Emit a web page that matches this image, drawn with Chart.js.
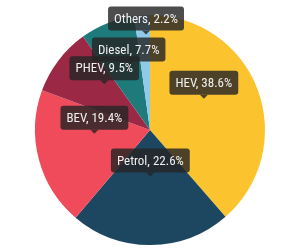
<!DOCTYPE html>
<html>
<head>
<meta charset="utf-8">
<script src="https://cdn.jsdelivr.net/npm/chart.js@4.4.1/dist/chart.umd.min.js"></script>
<style>
  html, body { margin: 0; padding: 0; background: #fff; }
  #wrap { width: 300px; height: 250px; }
</style>
</head>
<body>
<div id="wrap"><canvas id="pieChart"></canvas></div>
<script>
  // data
  const categories = ['HEV', 'Petrol', 'BEV', 'PHEV', 'Diesel', 'Others'];
  const shares = [38.6, 22.6, 19.4, 9.5, 7.7, 2.2];
  const sliceColors = ['#fbc42f', '#1d4661', '#ef4b5b', '#9b2945', '#1f7a7b', '#8fcbe8'];

  const labelFont = "13px 'Roboto Condensed', 'Liberation Sans Narrow', 'DejaVu Sans Condensed', sans-serif";

  // callout box over every slice; pushed up only when it badly hits one already placed
  const calloutPlugin = {
    id: 'callouts',
    afterDatasetsDraw(chart) {
      const ctx = chart.ctx;
      const arcs = chart.getDatasetMeta(0).data;
      ctx.save();
      ctx.font = labelFont;
      const placed = [];
      arcs.forEach((arc, i) => {
        const pos = arc.tooltipPosition();
        const text = categories[i] + ', ' + shares[i] + '%';
        const w = ctx.measureText(text).width + 12;
        const h = 24;
        const box = { x: pos.x - w / 2, y: pos.y - 15 - h, w: w, h: h, px: pos.x, text: text };
        placed.forEach(p => {
          const overlapY = Math.min(box.y + h, p.y + p.h) - Math.max(box.y, p.y);
          if (box.x < p.x + p.w && box.x + box.w > p.x && overlapY > 8) {
            box.y = p.y - 7 - h;
          }
        });
        placed.push(box);
      });
      placed.slice().reverse().forEach(b => {
        const bottom = b.y + b.h;
        ctx.fillStyle = 'rgba(38, 38, 38, 0.82)';
        ctx.beginPath();
        ctx.roundRect(b.x, b.y, b.w, b.h, 3);
        ctx.fill();
        ctx.beginPath();
        ctx.moveTo(b.px - 4, bottom);
        ctx.lineTo(b.px, bottom + 4);
        ctx.lineTo(b.px + 4, bottom);
        ctx.fill();
        ctx.fillStyle = '#f0f0f0';
        ctx.textAlign = 'center';
        ctx.textBaseline = 'middle';
        ctx.fillText(b.text, b.px, b.y + b.h / 2 + 1);
      });
      ctx.restore();
    }
  };

  const pieCtx = document.getElementById('pieChart').getContext('2d');
  const pieChart = new Chart(pieCtx, {
    type: 'pie',
    data: {
      labels: categories,
      datasets: [{
        data: shares,
        backgroundColor: sliceColors,
        borderWidth: 0
      }]
    },
    options: {
      responsive: true,
      maintainAspectRatio: false,
      animation: false,
      layout: { padding: { top: 15, bottom: 5 } },
      plugins: {
        legend: { display: false },
        tooltip: { enabled: false }
      }
    },
    plugins: [calloutPlugin]
  });
</script>
</body>
</html>
